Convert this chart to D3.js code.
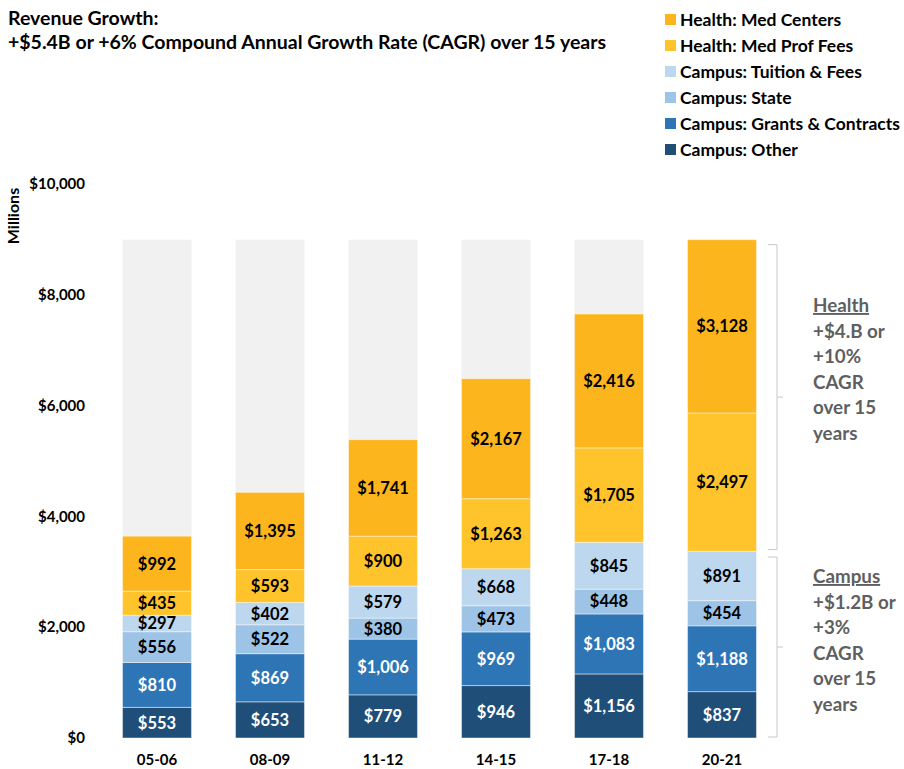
<!DOCTYPE html>
<html>
<head>
<meta charset="utf-8">
<script src="https://cdn.jsdelivr.net/npm/d3@7"></script>
<style>
  body { margin: 0; background: #fff; }
  svg { display: block; font-family: Lato, "Open Sans", sans-serif; font-weight: bold; }
</style>
</head>
<body>
<script>
const years = ["05-06", "08-09", "11-12", "14-15", "17-18", "20-21"];
const seriesNames = ["Campus: Other", "Campus: Grants & Contracts", "Campus: State",
  "Campus: Tuition & Fees", "Health: Med Prof Fees", "Health: Med Centers"];
const campusOther = [553, 653, 779, 946, 1156, 837];
const campusGrants = [810, 869, 1006, 969, 1083, 1188];
const campusState = [556, 522, 380, 473, 448, 454];
const campusTuition = [297, 402, 579, 668, 845, 891];
const healthProfFees = [435, 593, 900, 1263, 1705, 2497];
const healthMedCenters = [992, 1395, 1741, 2167, 2416, 3128];
const yTicks = [0, 2000, 4000, 6000, 8000, 10000];

const colors = ["#1f4e79", "#2e75b6", "#9dc3e6", "#bdd7ee", "#ffc42b", "#fdb51e"];
const labelColors = ["#fff", "#fff", "#000", "#000", "#000", "#000"];

const W = 904, H = 769;
const svg = d3.select("body").append("svg").attr("width", W).attr("height", H);

// build rows for the stack
const allSeries = [campusOther, campusGrants, campusState, campusTuition, healthProfFees, healthMedCenters];
const rows = years.map((yr, i) => {
  const r = { year: yr };
  seriesNames.forEach((s, k) => r[s] = allSeries[k][i]);
  return r;
});
const stacked = d3.stack().keys(seriesNames)(rows);
const totals = rows.map(r => d3.sum(seriesNames, s => r[s]));
const maxTotal = d3.max(totals);

const x = d3.scaleBand().domain(years).range([100.5, 778.5])
  .paddingInner(0.39).paddingOuter(0.195);
const y = d3.scaleLinear().domain([0, 10000]).range([738, 184]);

// title
svg.append("text").attr("x", 8).attr("y", 25).attr("font-size", 19.5).text("Revenue Growth:");
svg.append("text").attr("x", 8).attr("y", 49).attr("font-size", 19.5)
  .text("+$5.4B or +6% Compound Annual Growth Rate (CAGR) over 15 years");

// y axis labels
svg.append("g").selectAll("text").data(yTicks).join("text")
  .attr("x", 85).attr("y", d => y(d)).attr("dy", "0.35em")
  .attr("text-anchor", "end").attr("font-size", 15)
  .text(d => "$" + d3.format(",")(d));
svg.append("text").attr("transform", "translate(19,216) rotate(-90)")
  .attr("text-anchor", "middle").attr("font-size", 16).text("Millions");

// grey background bars up to the tallest total
svg.append("g").selectAll("rect").data(years).join("rect")
  .attr("x", d => x(d)).attr("width", x.bandwidth())
  .attr("y", y(maxTotal)).attr("height", y(0) - y(maxTotal))
  .attr("fill", "#f1f1f1");

// stacked segments
const layers = svg.append("g").selectAll("g").data(stacked).join("g")
  .attr("fill", (d, i) => colors[i]);
layers.selectAll("rect").data(d => d).join("rect")
  .attr("x", d => x(d.data.year)).attr("width", x.bandwidth())
  .attr("y", d => y(d[1])).attr("height", d => y(d[0]) - y(d[1]))
  .attr("stroke", "rgba(255,255,255,0.45)").attr("stroke-width", 1);

// value labels
const labels = svg.append("g").selectAll("g").data(stacked).join("g")
  .attr("fill", (d, i) => labelColors[i]);
labels.selectAll("text").data(d => d).join("text")
  .attr("x", d => x(d.data.year) + x.bandwidth() / 2)
  .attr("y", d => (y(d[0]) + y(d[1])) / 2).attr("dy", "0.36em")
  .attr("text-anchor", "middle").attr("font-size", 16.5)
  .text(d => "$" + d3.format(",")(d[1] - d[0]));

// x labels
svg.append("g").selectAll("text").data(years).join("text")
  .attr("x", d => x(d) + x.bandwidth() / 2).attr("y", 765)
  .attr("text-anchor", "middle").attr("font-size", 15).text(d => d);

// legend
const legendOrder = [5, 4, 3, 2, 1, 0];
const legend = svg.append("g").selectAll("g").data(legendOrder).join("g")
  .attr("transform", (d, i) => `translate(665,${20 + i * 26})`);
legend.append("rect").attr("x", 0).attr("y", -6).attr("width", 11).attr("height", 11)
  .attr("fill", d => colors[d]);
legend.append("text").attr("x", 15).attr("dy", "0.35em").attr("font-size", 17.5)
  .text(d => seriesNames[d]);

// brackets
const last = years.length - 1;
const campusTop = totals[last] - healthProfFees[last] - healthMedCenters[last];
function bracket(v0, v1) {
  const y0 = y(v1) + 5, y1 = y(v0) - 1, bx = 777, ym = (y0 + y1) / 2;
  svg.append("path")
    .attr("d", `M${bx - 9},${y0}H${bx}V${y1}H${bx - 9}M${bx},${ym}H${bx + 6}`)
    .attr("fill", "none").attr("stroke", "#c8c8c8").attr("stroke-width", 1);
}
bracket(campusTop + 12, maxTotal);
bracket(0, campusTop - 14);

const healthNote = ["Health", "+$4.B or", "+10%", "CAGR", "over 15", "years"];
const campusNote = ["Campus", "+$1.2B or", "+3%", "CAGR", "over 15", "years"];
function note(lines, top) {
  const t = svg.append("text").attr("x", 813).attr("font-size", 18.8).attr("fill", "#5f5f5f");
  lines.forEach((l, i) => {
    t.append("tspan").attr("x", 813).attr("y", top + i * 25.6)
      .attr("text-decoration", i === 0 ? "underline" : null).text(l);
  });
}
note(healthNote, 312);
note(campusNote, 583);
</script>
</body>
</html>
